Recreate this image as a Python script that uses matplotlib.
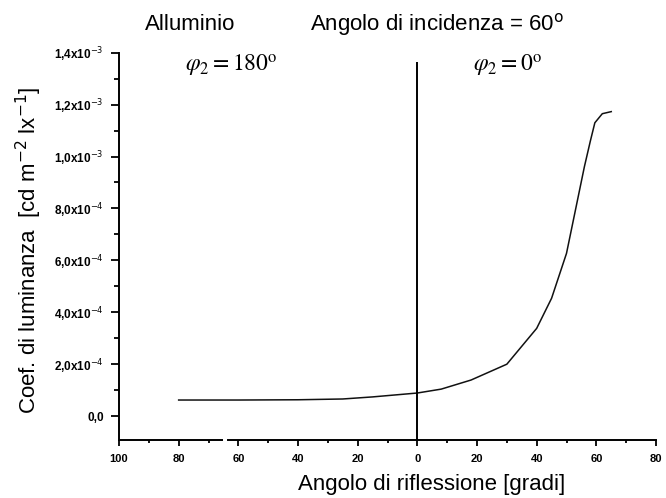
import matplotlib
matplotlib.use('Agg')
import matplotlib.pyplot as plt
from matplotlib.ticker import MultipleLocator, FixedLocator

# reflection angle: negative values = phi2 180 side (labels shown as absolute)
angle = [-80, -60, -40, -25, -15, -7, 0, 8, 18, 30, 40, 45, 50, 53, 56, 58, 59.5, 62, 65]
coef = [6.2e-5, 6.2e-5, 6.3e-5, 6.6e-5, 7.4e-5, 8.2e-5, 8.9e-5, 1.04e-4, 1.39e-4, 2.0e-4,
        3.38e-4, 4.54e-4, 6.27e-4, 7.94e-4, 9.61e-4, 1.06e-3, 1.13e-3, 1.165e-3, 1.173e-3]

x_major = [-100, -80, -60, -40, -20, 0, 20, 40, 60, 80]
x_minor = [-90, -70, -50, -30, -10, 10, 30, 50, 70]
y_major = [0, 2e-4, 4e-4, 6e-4, 8e-4, 1.0e-3, 1.2e-3, 1.4e-3]
y_labels = ['0,0', r'2,0x10$^{-4}$', r'4,0x10$^{-4}$', r'6,0x10$^{-4}$', r'8,0x10$^{-4}$',
            r'1,0x10$^{-3}$', r'1,2x10$^{-3}$', r'1,4x10$^{-3}$']

plt.rcParams['font.family'] = ['Liberation Sans', 'DejaVu Sans']

fig = plt.figure(figsize=(6.66, 4.98), dpi=100)
ax = fig.add_axes([119 / 666, 1 - 440 / 498, (656 - 119) / 666, (440 - 52.7) / 498])

ymin, ymax = -0.92e-4, 1.4e-3
ax.set_xlim(-100, 80)
ax.set_ylim(ymin, ymax)

ax.plot(angle, coef, color='#111111', lw=1.1)
ax.vlines(0, ymin, 1.365e-3, color='black', lw=1.4)

for s in ['top', 'right']:
    ax.spines[s].set_visible(False)
ax.spines['left'].set_linewidth(1.4)
ax.spines['bottom'].set_linewidth(1.4)
# broken x axis
ax.spines['bottom'].set_bounds(-63.3, 80)
ax.plot([-100, -65.3], [ymin, ymin], color='black', lw=1.4, clip_on=False,
        solid_capstyle='butt')

ax.xaxis.set_major_locator(FixedLocator(x_major))
ax.xaxis.set_minor_locator(FixedLocator(x_minor))
ax.set_xticklabels([str(abs(v)) for v in x_major])
ax.yaxis.set_major_locator(FixedLocator(y_major))
ax.yaxis.set_minor_locator(MultipleLocator(1e-4))
ax.set_yticklabels(y_labels)

ax.tick_params(axis='x', which='major', length=4, width=1.3, direction='out')
ax.tick_params(axis='x', which='minor', length=2.5, width=1.3, direction='out')
ax.tick_params(axis='y', which='major', length=6, width=1.3, direction='out')
ax.tick_params(axis='y', which='minor', length=3.5, width=1.3, direction='out')
ax.tick_params(axis='x', labelsize=8, pad=6)
ax.tick_params(axis='y', labelsize=8.5, pad=5)
for lab in ax.get_xticklabels() + ax.get_yticklabels():
    lab.set_fontweight('bold')

fig.text(29 / 666, 1 - 250 / 498, r'Coef. di luminanza  [cd m$^{-2}$ lx$^{-1}$]',
         rotation=90, ha='center', va='center', fontsize=16)
fig.text(432 / 666, 1 - 484 / 498, 'Angolo di riflessione [gradi]',
         ha='center', va='center', fontsize=16)
fig.text(145 / 666, 1 - 25 / 498, 'Alluminio', ha='left', va='center', fontsize=16)
fig.text(310 / 666, 1 - 25 / 498, r'Angolo di incidenza = 60$^{\rm o}$',
         ha='left', va='center', fontsize=16)
fig.text(185 / 666, 1 - 66 / 498, r'$\varphi_2 = 180^{\rm o}$', ha='left', va='center',
         fontsize=17, math_fontfamily='stix')
fig.text(473 / 666, 1 - 66 / 498, r'$\varphi_2 = 0^{\rm o}$', ha='left', va='center',
         fontsize=17, math_fontfamily='stix')

fig.savefig('out.png', dpi=100)
